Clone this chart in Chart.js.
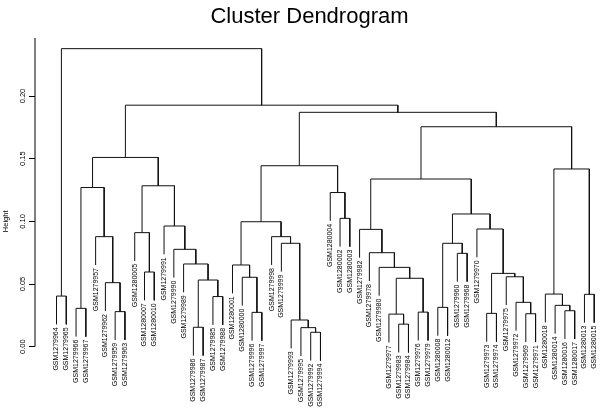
<!DOCTYPE html>
<html>
<head>
<meta charset="utf-8">
<script src="https://cdn.jsdelivr.net/npm/chart.js@4.4.1/dist/chart.umd.min.js"></script>
<style>
  html, body { margin: 0; padding: 0; background: #fff; }
  #wrap { width: 600px; height: 411px; }
</style>
</head>
<body>
<div id="wrap"><canvas id="dendro"></canvas></div>
<script>
// leaves in the order they sit under the tree
const leafLabels = [
    "GSM1279964", "GSM1279965", "GSM1279966", "GSM1279967", "GSM1279957", "GSM1279962", "GSM1279959", "GSM1279963",
    "GSM1280005", "GSM1280007", "GSM1280010", "GSM1279991", "GSM1279990", "GSM1279989", "GSM1279986", "GSM1279987",
    "GSM1279985", "GSM1279988", "GSM1280001", "GSM1280000", "GSM1279996", "GSM1279997", "GSM1279998", "GSM1279999",
    "GSM1279993", "GSM1279995", "GSM1279992", "GSM1279994", "GSM1280004", "GSM1280002", "GSM1280003", "GSM1279982",
    "GSM1279978", "GSM1279980", "GSM1279977", "GSM1279983", "GSM1279984", "GSM1279976", "GSM1279979", "GSM1280008",
    "GSM1280012", "GSM1279960", "GSM1279968", "GSM1279970", "GSM1279973", "GSM1279974", "GSM1279975", "GSM1279972",
    "GSM1279969", "GSM1279971", "GSM1280018", "GSM1280014", "GSM1280016", "GSM1280017", "GSM1280013", "GSM1280015"
];

// merge steps like R's hclust: negative = leaf position (1-based), positive = earlier merge (1-based)
const merges = [
    [-27, -28], [-26, 1], [-15, -16], [-36, -37], [-25, 2], [-35, 4], [-49, -50], [-45, -46],
    [-21, -22], [-38, -39], [-7, -8], [-53, -54], [-3, -4], [-40, -41], [-52, 12], [-48, 7],
    [-17, -18], [-1, -2], [-55, -56], [-51, 15], [-6, 11], [3, 17], [6, 10], [-20, 9],
    [-47, 16], [8, 25], [-10, -11], [-34, 23], [-19, 24], [-14, 22], [-42, -43], [-33, 28],
    [-13, 30], [-24, 5], [14, 31], [-5, 21], [-23, 34], [-9, 27], [-32, 32], [-44, 26],
    [-12, 33], [29, 37], [-30, -31], [35, 40], [-29, 43], [13, 36], [38, 41], [39, 44],
    [20, 19], [42, 45], [46, 47], [48, 49], [50, 52], [51, 53], [18, 54]
];
const mergeHeights = [
    0.0115, 0.0152, 0.0155, 0.0180, 0.0213, 0.0260, 0.0263, 0.0266,
    0.0274, 0.0276, 0.0280, 0.0287, 0.0306, 0.0314, 0.0330, 0.0354,
    0.0400, 0.0404, 0.0418, 0.0420, 0.0511, 0.0532, 0.0546, 0.0554,
    0.0558, 0.0585, 0.0596, 0.0633, 0.0652, 0.0660, 0.0745, 0.0750,
    0.0777, 0.0825, 0.0825, 0.0878, 0.0878, 0.0910, 0.0936, 0.0939,
    0.0963, 0.0997, 0.1024, 0.1059, 0.1230, 0.1270, 0.1284, 0.1338,
    0.1418, 0.1444, 0.1510, 0.1755, 0.1870, 0.1927, 0.2378
];

const yTicks = [0, 0.05, 0.10, 0.15, 0.20];
const hang = 0.0226; // how far leaves drop below their merge
const chartTitle = "Cluster Dendrogram";
const yAxisTitle = "Height";

// walk the merges to get node positions and the line pieces
const nodeX = [];
const leafEnd = [];
const segments = [];
merges.forEach(function (pair, k) {
    const h = mergeHeights[k];
    const ends = pair.map(function (c) {
        if (c < 0) {
            leafEnd[-c - 1] = h - hang;
            return { x: -c, y: h - hang };
        }
        return { x: nodeX[c - 1], y: mergeHeights[c - 1] };
    });
    nodeX[k] = (ends[0].x + ends[1].x) / 2;
    segments.push(
        { x: ends[0].x, y: ends[0].y },
        { x: ends[0].x, y: h },
        { x: ends[1].x, y: h },
        { x: ends[1].x, y: ends[1].y },
        { x: ends[1].x, y: null } // break
    );
});

const FONT = '"Liberation Sans", Arial, sans-serif';

const textPlugin = {
    id: "dendroText",
    afterDraw: function (chart) {
        const ctx = chart.ctx;
        const xs = chart.scales.x;
        const ys = chart.scales.y;
        const left = chart.chartArea.left;
        ctx.save();
        ctx.fillStyle = "#000";
        ctx.strokeStyle = "#000";
        ctx.lineWidth = 1;

        // y axis line, from 0 upward
        ctx.beginPath();
        ctx.moveTo(left, ys.getPixelForValue(0));
        ctx.lineTo(left, ys.getPixelForValue(ys.max));
        ctx.stroke();

        // tick labels, turned like R does
        ctx.font = "7.5px " + FONT;
        ctx.textAlign = "center";
        ctx.textBaseline = "middle";
        yTicks.forEach(function (v) {
            ctx.save();
            ctx.translate(22.5, ys.getPixelForValue(v));
            ctx.rotate(-Math.PI / 2);
            ctx.fillText(v.toFixed(2), 0, 0);
            ctx.restore();
        });

        ctx.save();
        ctx.translate(5.5, ys.getPixelForValue(0.1));
        ctx.rotate(-Math.PI / 2);
        ctx.fillText(yAxisTitle, 0, 0);
        ctx.restore();

        // leaf labels hang under each leaf
        ctx.font = "7px " + FONT;
        ctx.textAlign = "right";
        leafLabels.forEach(function (lab, i) {
            ctx.save();
            ctx.translate(xs.getPixelForValue(i + 1), ys.getPixelForValue(leafEnd[i]) + 3);
            ctx.rotate(-Math.PI / 2);
            ctx.fillText(lab, 0, 0);
            ctx.restore();
        });

        ctx.font = "22px " + FONT;
        ctx.textAlign = "center";
        ctx.textBaseline = "alphabetic";
        ctx.fillText(chartTitle, 309.5, 23);
        ctx.restore();
    }
};

const ctx = document.getElementById("dendro").getContext("2d");
new Chart(ctx, {
    type: "scatter",
    data: {
        datasets: [
            {
                data: segments,
                showLine: true,
                spanGaps: false,
                borderColor: "#111",
                borderWidth: 1,
                pointRadius: 0,
                pointHoverRadius: 0,
            },
        ],
    },
    options: {
        responsive: true,
        maintainAspectRatio: false,
        animation: false,
        layout: { padding: { top: 38, bottom: 48, left: 0, right: 0 } },
        plugins: {
            legend: { display: false },
            tooltip: { enabled: false },
        },
        scales: {
            x: {
                type: "linear",
                display: false,
                min: -1.2,
                max: 56.59,
            },
            y: {
                type: "linear",
                min: -0.013,
                max: 0.2463,
                afterFit: function (scale) { scale.width = 35; },
                afterBuildTicks: function (scale) {
                    scale.ticks = yTicks.map(function (v) { return { value: v }; });
                },
                border: { display: false },
                grid: {
                    drawOnChartArea: false,
                    drawTicks: true,
                    tickLength: 6,
                    color: "#000",
                },
                ticks: { display: false },
            },
        },
    },
    plugins: [textPlugin],
});
</script>
</body>
</html>
